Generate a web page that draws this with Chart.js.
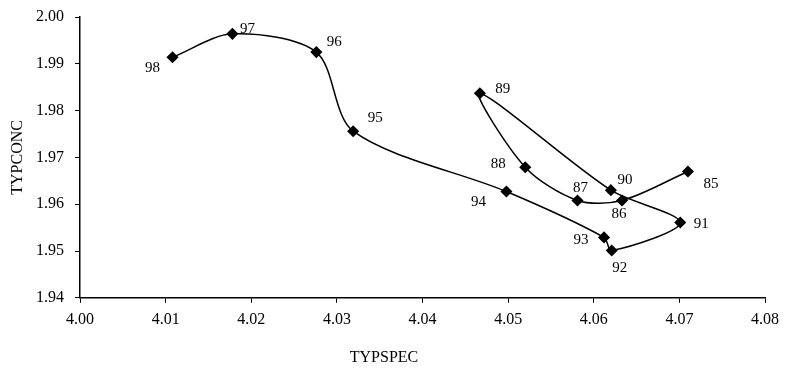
<!DOCTYPE html>
<html lang="en">
<head>
    <meta charset="UTF-8">
    <title>TYPSPEC vs TYPCONC</title>
    <script src="https://cdn.jsdelivr.net/npm/chart.js"></script>
    <style>
        html, body { margin: 0; padding: 0; background: #fff; }
        #wrap { width: 786px; height: 377px; }
    </style>
</head>
<body>
    <div id="wrap"><canvas id="chart"></canvas></div>
    <script>
        // years, in the order the line is drawn
        const years = ["85", "86", "87", "88", "89", "90", "91", "92", "93", "94", "95", "96", "97", "98"];
        const typspec = [4.071, 4.0633, 4.0581, 4.052, 4.0467, 4.062, 4.0701, 4.0621, 4.0612, 4.0498, 4.0319, 4.0276, 4.0178, 4.0108];
        const typconc = [1.967, 1.9608, 1.9608, 1.9679, 1.9837, 1.963, 1.9561, 1.9501, 1.9529, 1.9627, 1.9756, 1.9925, 1.9964, 1.9914];
        const xTicks = [4.00, 4.01, 4.02, 4.03, 4.04, 4.05, 4.06, 4.07, 4.08];
        const yTicks = [1.94, 1.95, 1.96, 1.97, 1.98, 1.99, 2.00];

        // where each year label sits relative to its point (px)
        const labelOffsets = {
            "85": [23, 13], "86": [-3, 14], "87": [3, -12], "88": [-27, -3], "89": [23, -4],
            "90": [14, -10], "91": [21, 2], "92": [8, 18], "93": [-23, 3], "94": [-28, 10],
            "95": [22, -13], "96": [18, -10], "97": [15, -5], "98": [-20, 11]
        };

        const serif = "'Liberation Serif', 'Times New Roman', serif";

        const pointLabels = {
            id: "pointLabels",
            afterDatasetsDraw(chart) {
                const ctx = chart.ctx;
                const meta = chart.getDatasetMeta(0);
                ctx.save();
                ctx.font = "15px " + serif;
                ctx.fillStyle = "#000";
                ctx.textAlign = "center";
                ctx.textBaseline = "middle";
                meta.data.forEach((pt, i) => {
                    const off = labelOffsets[years[i]] || [0, 0];
                    ctx.fillText(years[i], pt.x + off[0], pt.y + off[1]);
                });
                ctx.restore();
            }
        };

        new Chart(document.getElementById("chart"), {
            type: "scatter",
            data: {
                datasets: [{
                    data: typspec.map((x, i) => ({ x: x, y: typconc[i] })),
                    showLine: true,
                    tension: 0.3,
                    borderColor: "#000",
                    borderWidth: 1.5,
                    pointStyle: "rectRot",
                    pointRadius: 5,
                    pointBackgroundColor: "#000",
                    pointBorderColor: "#000"
                }]
            },
            options: {
                responsive: true,
                maintainAspectRatio: false,
                animation: false,
                layout: { padding: { top: 17, right: 18, left: 0, bottom: 0 } },
                plugins: {
                    legend: { display: false },
                    tooltip: { enabled: false },
                    title: {
                        display: true,
                        position: "bottom",
                        text: "TYPSPEC",
                        color: "#000",
                        font: { family: serif, size: 16, weight: "normal" },
                        padding: { top: 2, bottom: 10 }
                    }
                },
                scales: {
                    x: {
                        type: "linear",
                        min: 4.00,
                        max: 4.08,
                        afterBuildTicks: s => { s.ticks = xTicks.map(v => ({ value: v })); },
                        afterFit: s => { s.height = 48; },
                        grid: { display: true, drawOnChartArea: false, tickLength: 5, color: "#000" },
                        border: { display: true, color: "#000", width: 1.5 },
                        ticks: {
                            color: "#000",
                            padding: 7,
                            maxRotation: 0,
                            font: { family: serif, size: 16 },
                            callback: v => v.toFixed(2)
                        }
                    },
                    y: {
                        min: 1.94,
                        max: 2.00,
                        afterBuildTicks: s => { s.ticks = yTicks.map(v => ({ value: v })); },
                        afterFit: s => { s.width = 80; s.paddingTop = 0; },
                        grid: { display: true, drawOnChartArea: false, tickLength: 5, color: "#000" },
                        border: { display: true, color: "#000", width: 1.5 },
                        title: {
                            display: true,
                            text: "TYPCONC",
                            color: "#000",
                            font: { family: serif, size: 16 },
                            padding: { top: 8, bottom: 0 }
                        },
                        ticks: {
                            color: "#000",
                            padding: 11,
                            font: { family: serif, size: 16, lineHeight: 1 },
                            callback: v => v.toFixed(2)
                        }
                    }
                }
            },
            plugins: [pointLabels]
        });
    </script>
</body>
</html>
